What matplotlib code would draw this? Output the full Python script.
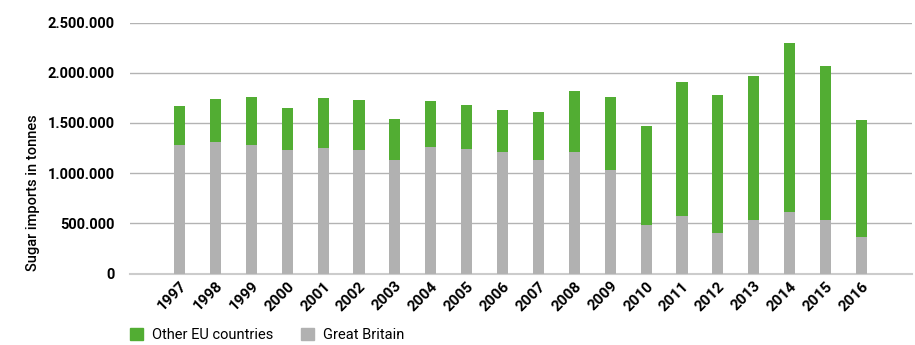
import matplotlib
matplotlib.use("Agg")
import matplotlib.pyplot as plt
from matplotlib.ticker import FuncFormatter
from matplotlib.patches import Patch
import numpy as np

plt.rcParams['font.family'] = ['Roboto', 'DejaVu Sans']

years = ['1997', '1998', '1999', '2000', '2001', '2002', '2003', '2004', '2005', '2006',
         '2007', '2008', '2009', '2010', '2011', '2012', '2013', '2014', '2015', '2016']
great_britain = [1280000, 1310000, 1280000, 1230000, 1250000, 1230000, 1130000, 1260000, 1240000, 1210000,
                 1130000, 1210000, 1030000, 483000, 573000, 403000, 533000, 613000, 533000, 364000]
totals = [1668000, 1738000, 1758000, 1648000, 1748000, 1728000, 1539000, 1718000, 1678000, 1628000,
          1608000, 1818000, 1758000, 1469000, 1907000, 1778000, 1967000, 2296000, 2067000, 1529000]
other_eu = [t - g for t, g in zip(totals, great_britain)]

green = '#52ad33'
grey = '#b1b1b1'

fig = plt.figure(figsize=(9.15, 3.45), dpi=100)
ax = fig.add_axes([130/915, 1 - 273.5/345, (912-130)/915, (273.5-22.5)/345])

x = np.arange(len(years))
w = 0.31
ax.bar(x, great_britain, width=w, color=grey, zorder=3)
ax.bar(x, other_eu, width=w, bottom=great_britain, color=green, zorder=3)

ax.set_ylim(0, 2500000)
ax.set_xlim(-1.38, len(years) - 1 + 1.41)
ax.set_yticks([0, 500000, 1000000, 1500000, 2000000, 2500000])
ax.yaxis.set_major_formatter(FuncFormatter(lambda v, p: f"{int(v):,}".replace(',', '.')))
ax.grid(axis='y', color='#b3b3b3', linewidth=1.0, zorder=0)
for s in ['left', 'right', 'top']:
    ax.spines[s].set_visible(False)
ax.spines['bottom'].set_color('#cccccc')
ax.spines['bottom'].set_linewidth(1.5)
ax.tick_params(axis='both', length=0)
ax.tick_params(axis='y', pad=11, labelsize=10.5)
ax.tick_params(axis='x', pad=4)
ax.set_xticks(x)
ax.set_xticklabels(years, rotation=45, ha='right', rotation_mode='anchor', fontsize=11, fontweight='bold')
for lab in ax.get_yticklabels():
    lab.set_fontweight('bold')

fig.text(33/915, 1 - 193/345, 'Sugar imports in tonnes', rotation=90, ha='center', va='center',
         fontsize=10.5, fontweight='medium')

handles = [Patch(color=green, label='Other EU countries'), Patch(color=grey, label='Great Britain')]
fig.legend(handles=handles, loc='center left', bbox_to_anchor=(130/915, 1 - 335/345), ncol=2, frameon=False,
           fontsize=10.5, handlelength=0.9, handleheight=0.9, handletextpad=0.6, columnspacing=1.9,
           borderaxespad=0, borderpad=0)

fig.savefig('out.png', dpi=100)
